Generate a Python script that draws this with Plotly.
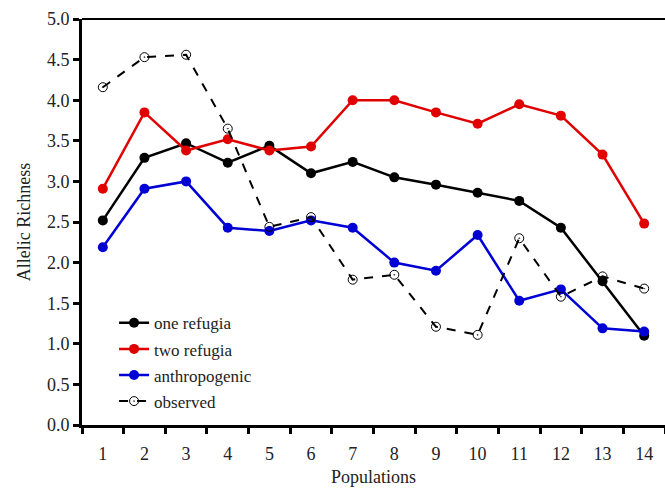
import plotly.graph_objects as go

populations = list(range(1, 15))
one_refugia = [2.52, 3.29, 3.47, 3.23, 3.44, 3.10, 3.24, 3.05, 2.96, 2.86, 2.76, 2.43, 1.77, 1.10]
two_refugia = [2.91, 3.85, 3.38, 3.52, 3.38, 3.43, 4.00, 4.00, 3.85, 3.71, 3.95, 3.81, 3.33, 2.48]
anthropogenic = [2.19, 2.91, 3.00, 2.43, 2.39, 2.52, 2.43, 2.00, 1.90, 2.34, 1.53, 1.67, 1.19, 1.15]
observed = [4.16, 4.53, 4.56, 3.65, 2.44, 2.56, 1.79, 1.85, 1.21, 1.11, 2.30, 1.58, 1.83, 1.68]

FONT = "Liberation Serif, Times New Roman, DejaVu Serif, serif"

fig = go.Figure()
series = [
    ("one refugia", one_refugia, "#000000"),
    ("two refugia", two_refugia, "#e00000"),
    ("anthropogenic", anthropogenic, "#0000d4"),
]
for name, vals, col in series:
    fig.add_trace(go.Scatter(
        x=populations, y=vals, name=name, mode="lines+markers",
        line=dict(color=col, width=2.5),
        marker=dict(color=col, size=10, symbol="circle"),
        legendgroup=name,
    ))
fig.add_trace(go.Scatter(
    x=populations, y=observed, name="observed", mode="lines+markers",
    line=dict(color="#000000", width=2, dash="dash"),
    marker=dict(color="#000000", size=9, symbol="circle-open-dot",
                line=dict(color="#000000", width=1)),
    legendgroup="observed",
))

fig.update_layout(
    width=665, height=489,
    margin=dict(l=82, r=0, t=19, b=64),
    paper_bgcolor="white", plot_bgcolor="white",
    font=dict(family=FONT, size=16, color="#222222"),
    showlegend=True,
    legend=dict(x=0.055, y=0.295, xanchor="left", yanchor="top",
                bgcolor="rgba(0,0,0,0)", font=dict(family=FONT, size=17, color="#222222"),
                tracegroupgap=1, itemwidth=30),
    xaxis=dict(
        range=[0.5, 14.5], tickvals=populations,
        ticktext=[str(p) for p in populations],
        ticks="", showgrid=False, zeroline=False,
        showline=True, linecolor="black", linewidth=3,
        minor=dict(tick0=0.5, dtick=1, ticks="outside", ticklen=6, tickwidth=3, tickcolor="black"),
        ticklabelstandoff=10,
        tickfont=dict(family=FONT, size=18, color="#222222"),
        title=dict(text="Populations", font=dict(family=FONT, size=18, color="#222222"), standoff=8),
    ),
    yaxis=dict(
        range=[0, 5], tickvals=[0, 0.5, 1, 1.5, 2, 2.5, 3, 3.5, 4, 4.5, 5],
        ticktext=["0.0", "0.5", "1.0", "1.5", "2.0", "2.5", "3.0", "3.5", "4.0", "4.5", "5.0"],
        ticks="outside", ticklen=6, tickwidth=3, tickcolor="black",
        showgrid=False, zeroline=False,
        showline=True, linecolor="black", linewidth=3,
        tickfont=dict(family=FONT, size=18, color="#222222"),
        title=dict(text="Allelic Richness", font=dict(family=FONT, size=18, color="#222222"), standoff=12),
    ),
    shapes=[dict(type="line", xref="paper", yref="paper", x0=0, x1=1, y0=1, y1=1,
                 line=dict(color="black", width=2))],
)

fig.write_html("out.html")
